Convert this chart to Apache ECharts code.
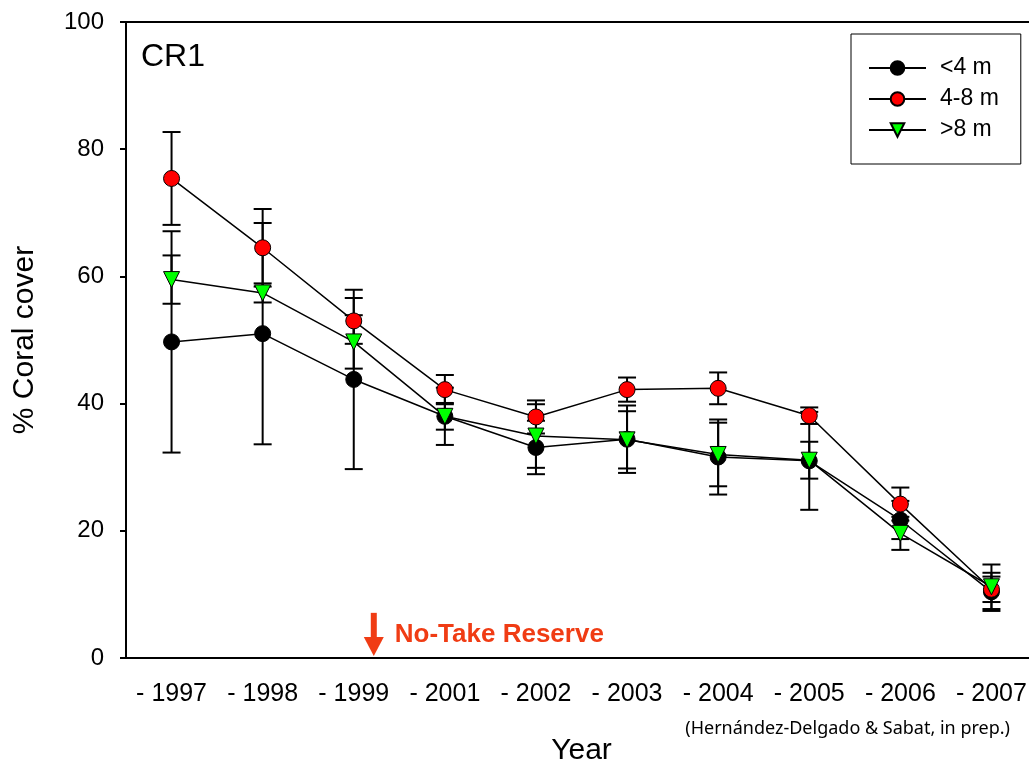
<!DOCTYPE html>
<html>
<head>
<meta charset="utf-8">
<script src="https://cdn.jsdelivr.net/npm/echarts@6/dist/echarts.min.js"></script>
<style>html,body{margin:0;padding:0;background:#fff;}#c{width:1029px;height:761px;}</style>
</head>
<body>
<div id="c"></div>
<script>
var years = ['1997','1998','1999','2001','2002','2003','2004','2005','2006','2007'];
var yTicks = [0, 20, 40, 60, 80, 100];
var shallow    = [49.7, 51.0, 43.8, 38.0, 33.1, 34.4, 31.6, 31.0, 21.7, 10.4];
var shallowErr = [17.4, 17.4, 14.1, 4.5, 4.2, 5.3, 5.9, 7.7, 3.0, 3.0];
var mid        = [75.4, 64.5, 53.0, 42.2, 37.9, 42.2, 42.4, 38.1, 24.2, 10.8];
var midErr     = [7.3, 6.1, 3.6, 2.3, 2.6, 1.9, 2.5, 1.3, 2.6, 2.0];
var deep       = [59.5, 57.4, 49.7, 38.0, 34.9, 34.3, 32.0, 31.1, 19.6, 11.2];
var deepErr    = [3.8, 1.5, 4.2, 2.1, 5.0, 4.5, 5.0, 2.9, 2.6, 3.5];
var seriesNames = ['<4 m', '4-8 m', '>8 m'];

function errData(vals, errs) {
  return vals.map(function (v, i) { return [i, v - errs[i], v + errs[i]]; });
}
function errRender(params, api) {
  var x = api.value(0), lo = api.value(1), hi = api.value(2);
  var pLo = api.coord([x, lo]), pHi = api.coord([x, hi]);
  var hw = 9, st = { stroke: '#000', lineWidth: 2 };
  return { type: 'group', children: [
    { type: 'line', shape: { x1: pLo[0], y1: pHi[1], x2: pLo[0], y2: pLo[1] }, style: st },
    { type: 'line', shape: { x1: pLo[0] - hw, y1: pHi[1], x2: pLo[0] + hw, y2: pHi[1] }, style: st },
    { type: 'line', shape: { x1: pLo[0] - hw, y1: pLo[1], x2: pLo[0] + hw, y2: pLo[1] }, style: st }
  ]};
}
function errSeries(id, vals, errs) {
  return { type: 'custom', id: id, name: id, renderItem: errRender, data: errData(vals, errs),
           encode: { x: 0, y: [1, 2] }, z: 1, silent: true };
}
function lineSeries(name, vals, symbol, color, size, rot) {
  return { type: 'line', name: name, data: vals, symbol: symbol, symbolSize: size, symbolRotate: rot || 0,
           lineStyle: { color: '#000', width: 1.5 },
           itemStyle: { color: color, borderColor: '#000', borderWidth: 1 },
           z: 3, animation: false };
}

var chart = echarts.init(document.getElementById('c'));
var font = 'Liberation Sans, Arial, sans-serif';
chart.setOption({
  animation: false,
  backgroundColor: '#fff',
  title: { text: 'CR1', left: 136, top: 36, textStyle: { fontFamily: font, fontSize: 32, fontWeight: 'normal', color: '#000' } },
  grid: { left: 126, top: 22, right: -8, bottom: 103, containLabel: false, outerBoundsMode: 'none',
          show: true, borderColor: '#000', borderWidth: 2, backgroundColor: 'transparent' },
  legend: {
    orient: 'vertical', left: 851, top: 34,
    itemWidth: 57, itemHeight: 17, itemGap: 5,
    padding: [21, 22, 21, 17],
    borderColor: '#000', borderWidth: 1,
    textStyle: { fontFamily: font, fontSize: 23, color: '#000', padding: [0, 0, 0, 9], lineHeight: 26 },
    data: seriesNames
  },
  xAxis: {
    type: 'category', data: years, boundaryGap: true,
    name: 'Year', nameLocation: 'middle', nameGap: 78,
    nameTextStyle: { fontFamily: font, fontSize: 30, color: '#000' },
    axisLine: { lineStyle: { color: '#000', width: 2 } },
    axisTick: { alignWithLabel: true, length: 8, lineStyle: { color: '#000', width: 2 } },
    axisLabel: { interval: 0, hideOverlap: false, fontFamily: font, fontSize: 25, color: '#000', margin: 24,
                 formatter: function (v) { return '- ' + v; } }
  },
  yAxis: {
    type: 'value', min: yTicks[0], max: yTicks[yTicks.length - 1], interval: 20,
    name: '% Coral cover', nameLocation: 'middle', nameGap: 86,
    nameTextStyle: { fontFamily: font, fontSize: 30, color: '#000' },
    axisLine: { show: true, lineStyle: { color: '#000', width: 2 } },
    axisTick: { show: true, length: 6, lineStyle: { color: '#000', width: 2 } },
    axisLabel: { fontFamily: font, fontSize: 24, color: '#000', margin: 22 },
    splitLine: { show: false }
  },
  series: [
    errSeries('err0', shallow, shallowErr),
    errSeries('err1', mid, midErr),
    errSeries('err2', deep, deepErr),
    lineSeries(seriesNames[0], shallow, 'circle', '#000000', 16),
    lineSeries(seriesNames[1], mid, 'circle', '#ff0000', 16),
    lineSeries(seriesNames[2], deep, 'triangle', '#00ff00', 16, 180)
  ]
});

// annotation positioned relative to the axes
var xa = chart.convertToPixel({ xAxisIndex: 0 }, '1999');
var xb = chart.convertToPixel({ xAxisIndex: 0 }, '2001');
var ax = xa + 0.22 * (xb - xa);
var y0 = chart.convertToPixel({ yAxisIndex: 0 }, 0);
var y7 = chart.convertToPixel({ yAxisIndex: 0 }, 7.1);
var red = '#f03c14';
chart.setOption({
  graphic: [
    { type: 'rect', shape: { x: ax - 3, y: y7, width: 6, height: (y0 - 3) - y7 - 16 }, style: { fill: red }, silent: true },
    { type: 'polygon', shape: { points: [[ax - 10, y0 - 21], [ax + 10, y0 - 21], [ax, y0 - 2]] }, style: { fill: red }, silent: true },
    { type: 'text', x: ax + 21, y: y0 - 23, style: { text: 'No-Take Reserve', fill: red, font: 'bold 26px Liberation Sans, Arial, sans-serif', textVerticalAlign: 'middle' }, silent: true },
    { type: 'text', right: 19, top: 720, style: { text: '(Hernández-Delgado & Sabat, in prep.)', fill: '#000', font: '18px Noto Sans, sans-serif' }, silent: true }
  ]
});
</script>
</body>
</html>
